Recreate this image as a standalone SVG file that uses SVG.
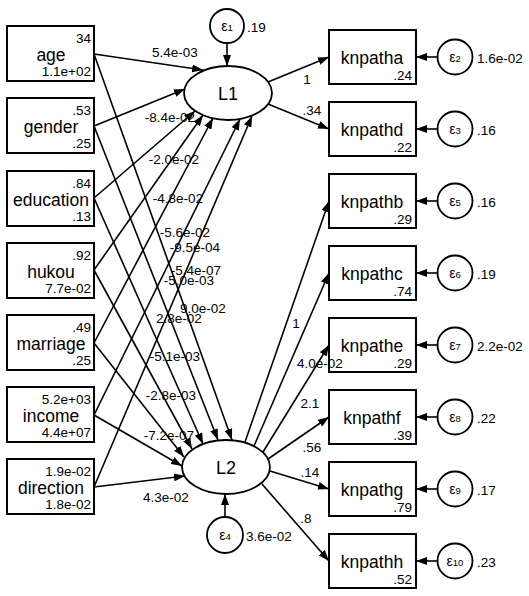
<svg xmlns="http://www.w3.org/2000/svg" width="529" height="596" viewBox="0 0 529 596">
<style>
.bx{fill:#fff;stroke:#000;stroke-width:2}
.el{fill:#fff;stroke:#000;stroke-width:1.8}
.ln{fill:none;stroke:#000;stroke-width:1.6;marker-end:url(#ah)}
.nm{font-family:"Liberation Sans",Arial,sans-serif;font-size:17.5px;fill:#000;text-anchor:middle}
.v{font-family:"Liberation Sans",Arial,sans-serif;font-size:13.5px;fill:#000}
.r{text-anchor:end}
.c{text-anchor:middle}
.eps{font-family:"Liberation Sans",Arial,sans-serif;font-size:14px;fill:#000;text-anchor:middle}
.sub{font-size:9.5px}
</style>
<defs>
<marker id="ah" markerWidth="11" markerHeight="8" refX="11" refY="4" orient="auto" markerUnits="userSpaceOnUse"><path d="M0,0 L11,4 L0,8 z" fill="#000"/></marker>
</defs>
<rect width="529" height="596" fill="#fff"/>
<g id="connectors">
<path class="ln" d="M94,54 L203,70"/>
<path class="ln" d="M94,126 L185,89"/>
<path class="ln" d="M94,198 L195,111"/>
<path class="ln" d="M94,270 L203,115"/>
<path class="ln" d="M94,343 L213,118"/>
<path class="ln" d="M94,415 L240,119"/>
<path class="ln" d="M94,487 L252,116"/>
<path class="ln" d="M94,54 L232,440"/>
<path class="ln" d="M94,126 L218,440"/>
<path class="ln" d="M94,198 L203,444"/>
<path class="ln" d="M94,270 L192,449"/>
<path class="ln" d="M94,343 L184,457"/>
<path class="ln" d="M94,415 L182,466"/>
<path class="ln" d="M94,487 L185,476"/>
<path class="ln" d="M268,82 L329,57"/>
<path class="ln" d="M268,104 L329,129"/>
<path class="ln" d="M245,442 L329,201"/>
<path class="ln" d="M254,446 L329,273"/>
<path class="ln" d="M263,452 L329,345"/>
<path class="ln" d="M268,459 L329,417"/>
<path class="ln" d="M270,471 L329,489"/>
<path class="ln" d="M262,484 L329,561"/>
<path class="ln" d="M227,43 L227,66"/>
<path class="ln" d="M225,517 L225,494"/>
<path class="ln" d="M437.5,57 L416,57"/>
<path class="ln" d="M437.5,129 L416,129"/>
<path class="ln" d="M437.5,201 L416,201"/>
<path class="ln" d="M437.5,273 L416,273"/>
<path class="ln" d="M437.5,345 L416,345"/>
<path class="ln" d="M437.5,417 L416,417"/>
<path class="ln" d="M437.5,489 L416,489"/>
<path class="ln" d="M437.5,561 L416,561"/>
</g>
<g id="age"><rect class="bx" x="7" y="26" width="87" height="55"/><text class="v r" x="91" y="42.5">34</text><text class="nm" x="51" y="60.5">age</text><text class="v r" x="91" y="76">1.1e+02</text></g>
<g id="gender"><rect class="bx" x="7" y="98" width="87" height="55"/><text class="v r" x="91" y="114.5">.53</text><text class="nm" x="51" y="132.5">gender</text><text class="v r" x="91" y="148">.25</text></g>
<g id="education"><rect class="bx" x="7" y="171" width="87" height="55"/><text class="v r" x="91" y="187.5">.84</text><text class="nm" x="51" y="205.5">education</text><text class="v r" x="91" y="221">.13</text></g>
<g id="hukou"><rect class="bx" x="7" y="243" width="87" height="55"/><text class="v r" x="91" y="259.5">.92</text><text class="nm" x="51" y="277.5">hukou</text><text class="v r" x="91" y="293">7.7e-02</text></g>
<g id="marriage"><rect class="bx" x="7" y="315" width="87" height="55"/><text class="v r" x="91" y="331.5">.49</text><text class="nm" x="51" y="349.5">marriage</text><text class="v r" x="91" y="365">.25</text></g>
<g id="income"><rect class="bx" x="7" y="387" width="87" height="55"/><text class="v r" x="91" y="403.5">5.2e+03</text><text class="nm" x="51" y="421.5">income</text><text class="v r" x="91" y="437">4.4e+07</text></g>
<g id="direction"><rect class="bx" x="7" y="459" width="87" height="55"/><text class="v r" x="91" y="475.5">1.9e-02</text><text class="nm" x="51" y="493.5">direction</text><text class="v r" x="91" y="509">1.8e-02</text></g>
<g id="L1"><ellipse class="el" cx="228" cy="93" rx="44" ry="27"/><text class="nm" x="228" y="100" style="font-size:18px">L1</text></g>
<g id="L2"><ellipse class="el" cx="226" cy="467" rx="44" ry="27"/><text class="nm" x="226" y="474" style="font-size:18px">L2</text></g>
<g id="e1"><circle class="el" cx="227" cy="26" r="17"/><text class="eps" x="227" y="31">ε<tspan class="sub">1</tspan></text><text class="v" x="247" y="32">.19</text></g>
<g id="e4"><circle class="el" cx="225" cy="535" r="18"/><text class="eps" x="225" y="540">ε<tspan class="sub">4</tspan></text><text class="v" x="246" y="541">3.6e-02</text></g>
<g id="knpatha"><rect class="bx" x="329" y="30" width="87" height="54"/><text class="nm" x="372" y="64">knpatha</text><text class="v r" x="412" y="80">.24</text></g>
<g id="knpathd"><rect class="bx" x="329" y="102" width="87" height="54"/><text class="nm" x="372" y="136">knpathd</text><text class="v r" x="412" y="152">.22</text></g>
<g id="knpathb"><rect class="bx" x="329" y="174" width="87" height="54"/><text class="nm" x="372" y="208">knpathb</text><text class="v r" x="412" y="224">.29</text></g>
<g id="knpathc"><rect class="bx" x="329" y="246" width="87" height="54"/><text class="nm" x="372" y="280">knpathc</text><text class="v r" x="412" y="296">.74</text></g>
<g id="knpathe"><rect class="bx" x="329" y="318" width="87" height="54"/><text class="nm" x="372" y="352">knpathe</text><text class="v r" x="412" y="368">.29</text></g>
<g id="knpathf"><rect class="bx" x="329" y="390" width="87" height="54"/><text class="nm" x="372" y="424">knpathf</text><text class="v r" x="412" y="440">.39</text></g>
<g id="knpathg"><rect class="bx" x="329" y="462" width="87" height="54"/><text class="nm" x="372" y="496">knpathg</text><text class="v r" x="412" y="512">.79</text></g>
<g id="knpathh"><rect class="bx" x="329" y="534" width="87" height="54"/><text class="nm" x="372" y="568">knpathh</text><text class="v r" x="412" y="584">.52</text></g>
<g id="e2"><circle class="el" cx="455" cy="57" r="17.5"/><text class="eps" x="455" y="62">ε<tspan class="sub">2</tspan></text><text class="v" x="477" y="62.5">1.6e-02</text></g>
<g id="e3"><circle class="el" cx="455" cy="129" r="17.5"/><text class="eps" x="455" y="134">ε<tspan class="sub">3</tspan></text><text class="v" x="477" y="134.5">.16</text></g>
<g id="e5"><circle class="el" cx="455" cy="201" r="17.5"/><text class="eps" x="455" y="206">ε<tspan class="sub">5</tspan></text><text class="v" x="477" y="206.5">.16</text></g>
<g id="e6"><circle class="el" cx="455" cy="273" r="17.5"/><text class="eps" x="455" y="278">ε<tspan class="sub">6</tspan></text><text class="v" x="477" y="278.5">.19</text></g>
<g id="e7"><circle class="el" cx="455" cy="345" r="17.5"/><text class="eps" x="455" y="350">ε<tspan class="sub">7</tspan></text><text class="v" x="477" y="350.5">2.2e-02</text></g>
<g id="e8"><circle class="el" cx="455" cy="417" r="17.5"/><text class="eps" x="455" y="422">ε<tspan class="sub">8</tspan></text><text class="v" x="477" y="422.5">.22</text></g>
<g id="e9"><circle class="el" cx="455" cy="489" r="17.5"/><text class="eps" x="455" y="494">ε<tspan class="sub">9</tspan></text><text class="v" x="477" y="494.5">.17</text></g>
<g id="e10"><circle class="el" cx="455" cy="561" r="17.5"/><text class="eps" x="455" y="566">ε<tspan class="sub">10</tspan></text><text class="v" x="477" y="566.5">.23</text></g>
<g id="path-labels" class="v c">
<text x="175" y="57">5.4e-03</text>
<text x="170" y="122">-8.4e-02</text>
<text x="174" y="164">-2.0e-02</text>
<text x="178" y="203">-4.8e-02</text>
<text x="185" y="237">-5.6e-02</text>
<text x="195" y="252">-9.5e-04</text>
<text x="196" y="275">-5.4e-07</text>
<text x="189" y="285">-5.0e-03</text>
<text x="203" y="313">9.0e-02</text>
<text x="179" y="323">2.8e-02</text>
<text x="175" y="361">-5.1e-03</text>
<text x="171" y="400">-2.8e-03</text>
<text x="169" y="440">-7.2e-07</text>
<text x="166" y="502">4.3e-02</text>
<text x="307" y="84">1</text>
<text x="312" y="115">.34</text>
<text x="296" y="328">1</text>
<text x="320" y="368">4.0e-02</text>
<text x="310" y="408">2.1</text>
<text x="312" y="452">.56</text>
<text x="310" y="477">.14</text>
<text x="306" y="523">.8</text>
</g>
</svg>
